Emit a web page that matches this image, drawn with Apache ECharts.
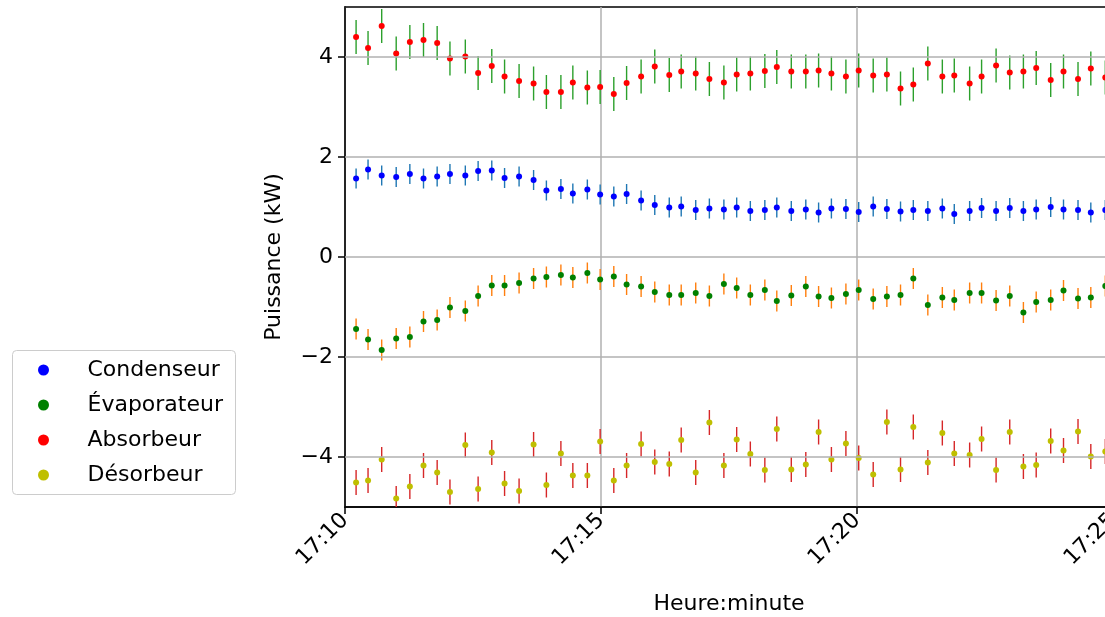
<!DOCTYPE html>
<html>
<head>
<meta charset="utf-8">
<script src="https://cdn.jsdelivr.net/npm/echarts@6/dist/echarts.min.js"></script>
<style>
  html, body { margin: 0; padding: 0; background: #fff; }
  #chart { width: 1105px; height: 617px; }
</style>
</head>
<body>
<div id="chart"></div>
<script>
// temps de mesure, en secondes depuis 17:10
const secondes = [13, 27, 43, 60, 76, 92, 108, 123, 141, 156, 172, 187, 204, 221, 236, 253, 267, 284, 299,
  315, 330, 347, 363, 380, 394, 411, 427, 444, 459, 475, 492, 506, 523, 540, 555, 570, 587,
  602, 619, 635, 651, 666, 683, 700, 714, 732, 746, 763, 779, 795, 810, 827, 842, 859, 874, 891]

const condenseur = [1.57, 1.75, 1.63, 1.60, 1.66, 1.57, 1.61, 1.66, 1.63, 1.72, 1.73, 1.58, 1.61, 1.54, 1.33, 1.36, 1.27, 1.35, 1.25,
  1.21, 1.26, 1.13, 1.04, 0.99, 1.01, 0.94, 0.97, 0.95, 0.99, 0.92, 0.94, 0.99, 0.92, 0.95, 0.89, 0.97, 0.96,
  0.90, 1.01, 0.96, 0.91, 0.94, 0.92, 0.97, 0.86, 0.92, 0.98, 0.92, 0.98, 0.92, 0.95, 1.00, 0.95, 0.94, 0.89, 0.94]

const evaporateur = [-1.44, -1.65, -1.86, -1.63, -1.60, -1.29, -1.26, -1.01, -1.08, -0.78, -0.57, -0.57, -0.52, -0.43, -0.40, -0.36, -0.41, -0.32, -0.45,
  -0.39, -0.55, -0.59, -0.70, -0.76, -0.76, -0.72, -0.78, -0.54, -0.62, -0.76, -0.66, -0.88, -0.77, -0.59, -0.79, -0.82, -0.74,
  -0.66, -0.84, -0.79, -0.76, -0.43, -0.96, -0.81, -0.86, -0.72, -0.72, -0.87, -0.78, -1.11, -0.90, -0.86, -0.67, -0.83, -0.81, -0.58]

const absorbeur = [4.40, 4.18, 4.62, 4.07, 4.30, 4.34, 4.28, 3.97, 4.01, 3.68, 3.82, 3.61, 3.52, 3.47, 3.30, 3.30, 3.49, 3.39, 3.40,
  3.26, 3.48, 3.61, 3.81, 3.64, 3.71, 3.67, 3.56, 3.49, 3.65, 3.67, 3.72, 3.80, 3.71, 3.71, 3.73, 3.67, 3.61,
  3.73, 3.63, 3.65, 3.37, 3.45, 3.87, 3.61, 3.63, 3.47, 3.61, 3.83, 3.69, 3.71, 3.78, 3.54, 3.71, 3.56, 3.77, 3.59]

const desorbeur = [-4.51, -4.47, -4.05, -4.83, -4.59, -4.17, -4.31, -4.70, -3.76, -4.64, -3.91, -4.53, -4.68, -3.75, -4.56, -3.93, -4.37, -4.37, -3.69,
  -4.47, -4.17, -3.74, -4.10, -4.14, -3.66, -4.31, -3.31, -4.17, -3.65, -3.94, -4.26, -3.44, -4.25, -4.15, -3.50, -4.05, -3.73,
  -4.02, -4.35, -3.30, -4.25, -3.40, -4.11, -3.52, -3.93, -3.96, -3.64, -4.26, -3.50, -4.19, -4.16, -3.68, -3.87, -3.49, -3.99, -3.89]

// incertitudes (demi-barres)
const errCondenseur = 0.2
const errEvaporateur = 0.21
const errAbsorbeur = 0.34
const errDesorbeur = 0.25

const yTicks = [-4, -2, 0, 2, 4]
const noms = ['Condenseur', 'Évaporateur', 'Absorbeur', 'Désorbeur']

const font = 'DejaVu Sans'
const fs = 22

const fmtHeure = (s) => {
  const total = 17 * 60 + 10 + Math.round(s / 60)
  return Math.floor(total / 60) + ':' + String(total % 60).padStart(2, '0')
}
const fmtY = (v) => (v < 0 ? '\u2212' + Math.abs(v) : String(v))

// barres d'erreur verticales
const errorBars = (name, values, err, color) => ({
  name: name,
  type: 'custom',
  clip: true,
  z: 2,
  data: secondes.map((t, i) => [t, values[i], err]),
  renderItem: (params, api) => {
    const x = api.value(0)
    const y = api.value(1)
    const e = api.value(2)
    const p1 = api.coord([x, y - e])
    const p2 = api.coord([x, y + e])
    return {
      type: 'line',
      shape: { x1: p1[0], y1: p1[1], x2: p2[0], y2: p2[1] },
      style: { stroke: color, lineWidth: 1.4 }
    }
  }
})

const points = (name, values, color) => ({
  name: name,
  type: 'scatter',
  z: 3,
  symbol: 'circle',
  symbolSize: 6,
  itemStyle: { color: color, opacity: 1 },
  data: secondes.map((t, i) => [t, values[i]])
})

const options = {
  animation: false,
  // cadre de la légende
  graphic: [{
    type: 'rect',
    left: 12,
    top: 350,
    z: 0,
    shape: { width: 223, height: 144, r: 4 },
    style: { fill: '#fff', stroke: '#cccccc', lineWidth: 1 }
  }],
  grid: {
    left: 345,
    right: -8,
    top: 7,
    bottom: 110,
    outerBoundsMode: 'none',
    show: true,
    borderColor: '#000',
    borderWidth: 1.5
  },
  legend: {
    orient: 'vertical',
    left: 38,
    top: 350,
    padding: [9, 0, 0, 0],
    itemWidth: 40,
    itemHeight: 11,
    itemGap: 13,
    formatter: (n) => '{t|' + n + '}',
    textStyle: {
      fontFamily: font,
      fontSize: fs,
      color: '#000',
      lineHeight: 20,
      rich: {
        t: { fontFamily: font, fontSize: fs, color: '#000', lineHeight: 20, padding: [0, 0, 0, 19] }
      }
    },
    data: noms.map((n) => ({ name: n, icon: 'circle' }))
  },
  xAxis: {
    type: 'value',
    min: 0,
    max: 900,
    interval: 300,
    name: 'Heure:minute',
    nameLocation: 'middle',
    nameGap: 86,
    nameTextStyle: { fontFamily: font, fontSize: fs, color: '#000' },
    axisLine: { onZero: false, lineStyle: { color: '#000', width: 1.5 } },
    axisTick: { length: 7, lineStyle: { color: '#000', width: 1.5 } },
    axisLabel: {
      rotate: 45,
      margin: 10,
      fontFamily: font,
      fontSize: fs,
      color: '#000',
      formatter: fmtHeure
    },
    splitLine: { show: true, lineStyle: { color: '#b0b0b0', width: 1.5 } }
  },
  yAxis: {
    type: 'value',
    min: -5,
    max: 5,
    interval: 1,
    name: 'Puissance (kW)',
    nameLocation: 'middle',
    nameRotate: 90,
    nameGap: 60,
    nameTextStyle: { fontFamily: font, fontSize: fs, color: '#000' },
    axisLine: { onZero: false, lineStyle: { color: '#000', width: 1.5 } },
    axisTick: { length: 7, customValues: yTicks, lineStyle: { color: '#000', width: 1.5 } },
    axisLabel: {
      customValues: yTicks,
      margin: 12,
      fontFamily: font,
      fontSize: fs,
      color: '#000',
      formatter: fmtY
    },
    splitLine: { show: false }
  },
  series: [
    {
      name: 'grille',
      type: 'line',
      data: [],
      z: 1,
      markLine: {
        silent: true,
        symbol: 'none',
        animation: false,
        label: { show: false },
        lineStyle: { color: '#b0b0b0', width: 1.5, type: 'solid' },
        data: yTicks.map((v) => ({ yAxis: v }))
      }
    },
    errorBars('err-cond', condenseur, errCondenseur, '#1f77b4'),
    points('Condenseur', condenseur, '#0000ff'),
    errorBars('err-evap', evaporateur, errEvaporateur, '#ff7f0e'),
    points('Évaporateur', evaporateur, '#008000'),
    errorBars('err-abs', absorbeur, errAbsorbeur, '#2ca02c'),
    points('Absorbeur', absorbeur, '#ff0000'),
    errorBars('err-des', desorbeur, errDesorbeur, '#d62728'),
    points('Désorbeur', desorbeur, '#bfbf00')
  ]
}

let chart = null
const initChart = () => {
  const chart = echarts.init(document.getElementById('chart'))
  chart.setOption(options)
  return chart
}
chart = initChart()
window.addEventListener('resize', function () {
  chart && chart.resize()
})
</script>
</body>
</html>
